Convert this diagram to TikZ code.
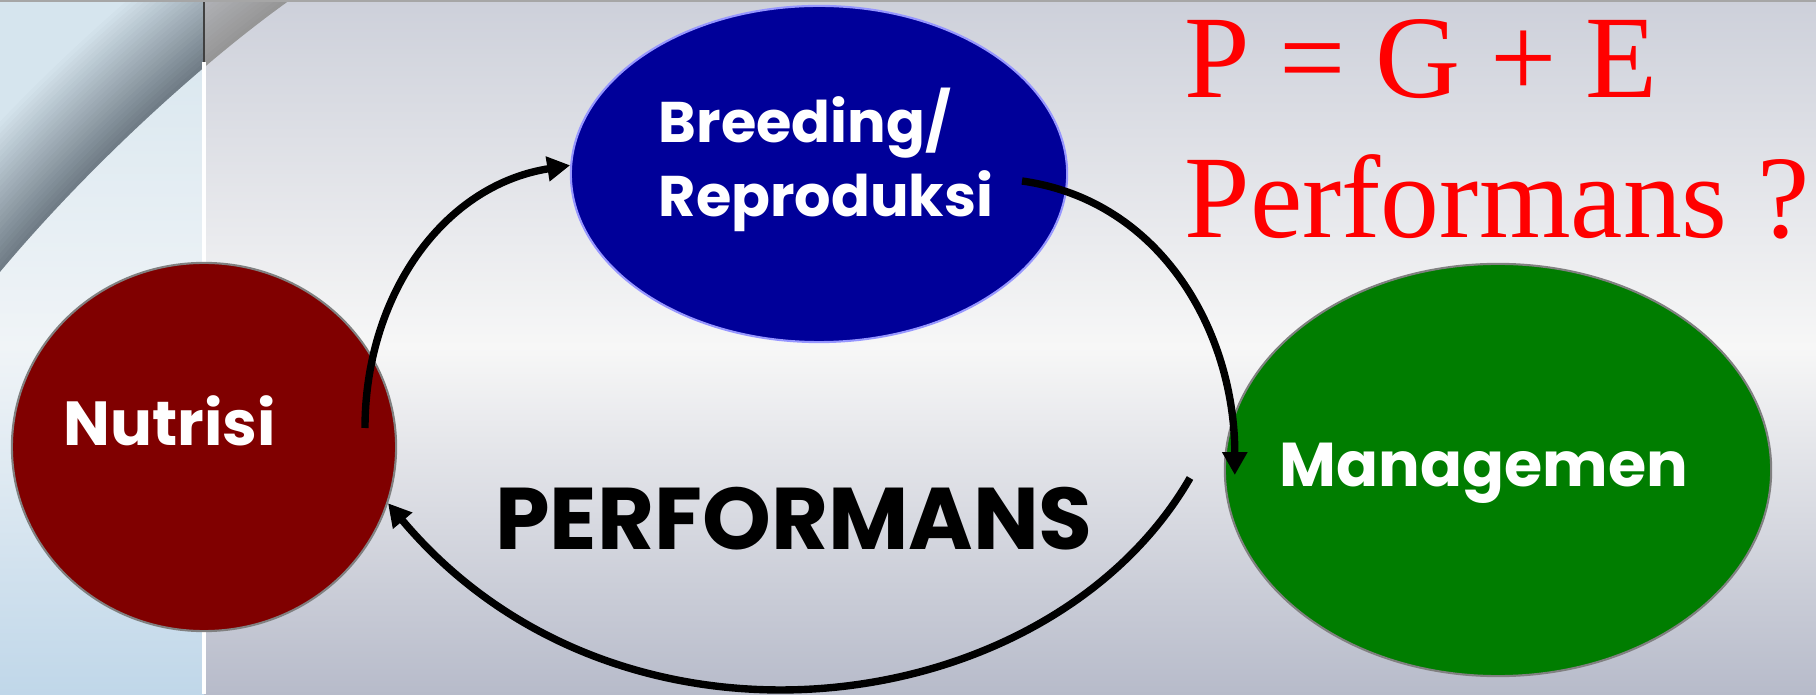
\documentclass[tikz,border=0pt]{standalone}
\usepackage{fontspec}
\setmainfont{Liberation Serif}
\newfontfamily\roundfont{Poppins}
\usetikzlibrary{shapes.geometric,arrows.meta}

\definecolor{nutricol}{RGB}{128,0,0}
\definecolor{breedcol}{RGB}{0,0,153}
\definecolor{breedrim}{RGB}{150,150,255}
\definecolor{managcol}{RGB}{0,125,0}
\definecolor{rimgray}{RGB}{128,128,128}
\definecolor{bgtop}{RGB}{205,208,218}
\definecolor{bgmid}{RGB}{247,247,247}
\definecolor{bgbot}{RGB}{183,187,202}
\definecolor{paneltop}{RGB}{214,229,238}
\definecolor{panelmid}{RGB}{240,244,247}
\definecolor{panelbot}{RGB}{192,215,233}
\definecolor{bandblue}{RGB}{112,124,134}
\definecolor{bandgray}{RGB}{150,150,150}

\begin{document}
\begin{tikzpicture}[
        x=0.01cm, y=0.01cm,
        blob/.style={
            ellipse,
            draw,
            line width=0.6pt,
            inner sep=0pt
        },
        tag/.style={
            text=white,
            inner sep=0pt,
            font=\roundfont\bfseries\fontsize{17.7}{21}\selectfont
        },
        flow/.style={
            -{Triangle[length=6.5pt,width=6.8pt]},
            line width=2.1pt
        }
    ]
        \useasboundingbox (0,0) rectangle (1816,694);

        % Background
        \shade[top color=bgtop, bottom color=bgbot, middle color=bgmid] (204,0) rectangle (1816,694);
        \shade[top color=paneltop, bottom color=panelbot, middle color=panelmid] (0,0) rectangle (204,694);

        % Swoosh
        \begin{scope}
            \clip (0,0) rectangle (204,694);
            \foreach \k [evaluate=\k as \p using 100-4*\k] in {0,...,25}
                \fill[bandblue!\p!paneltop, shift={(-2.7*\k,3*\k)}]
                    (290,694) .. controls (200,630) and (80,520) .. (-10,410)
                    -- (-300,600) -- (100,1100) -- cycle;
        \end{scope}
        \begin{scope}
            \clip (204,0) rectangle (1816,694);
            \foreach \k [evaluate=\k as \p using 100-4*\k] in {0,...,25}
                \fill[bandgray!\p!bgtop, shift={(-2.7*\k,3*\k)}]
                    (290,694) .. controls (200,630) and (80,520) .. (-10,410)
                    -- (-300,600) -- (100,1100) -- cycle;
        \end{scope}
        \draw[white, line width=1pt] (204,0) -- (204,632);
        \draw[black!75, line width=0.5pt] (204,632) -- (204,694);
        \draw[black!35, line width=0.6pt] (0,693) -- (1816,693);

        % Nutrisi
        \node[blob, fill=nutricol, draw=rimgray, minimum width=3.84cm, minimum height=3.68cm] (nutri) at (204,247) {};
        \node[tag, anchor=base] (nutritxt) at (170,248) {Nutrisi};

        % Breeding
        \node[blob, fill=breedcol, draw=breedrim, minimum width=4.96cm, minimum height=3.36cm] (breed) at (819,520) {};
        \node[tag, anchor=base west, align=left, font=\roundfont\bfseries\fontsize{16.3}{21.3}\selectfont] (breedtxt) at (658,477) {Breeding/\\Reproduksi};

        % Managemen
        \node[blob, fill=managcol, draw=rimgray, minimum width=5.46cm, minimum height=4.12cm] (manag) at (1498,224) {};
        \node[tag, anchor=base, font=\roundfont\bfseries\fontsize{17.6}{21}\selectfont] (managtxt) at (1484,207) {Managemen};

        % Performans
        \node[inner sep=0pt, anchor=base, font=\roundfont\bfseries\fontsize{24.9}{29}\selectfont] (perf) at (794,145) {PERFORMANS};

        % Equation
        \node[red, inner sep=0pt, anchor=base west, font=\fontsize{33.5}{40}\selectfont] (pge) at (1184,596) {P = G + E};
        \node[red, inner sep=0pt, anchor=base west, font=\fontsize{33.5}{40}\selectfont] (quest) at (1184,456) {Performans ?};

        % Cycle
        \coordinate (nstart) at (365,266);
        \coordinate (bstart) at (1022,513);
        \coordinate (mstart) at (1190,216);
        \draw[flow] (nstart) to[out=90, in=189] (breed.178);
        \draw[flow] (bstart) to[out=-8, in=90] ([xshift=0.11cm, yshift=-0.05cm]manag.west);
        \draw[flow] (mstart) to[out=-120, in=-50, out looseness=0.9, in looseness=1.15] (nutri.-17);
    \end{tikzpicture}
\end{document}
